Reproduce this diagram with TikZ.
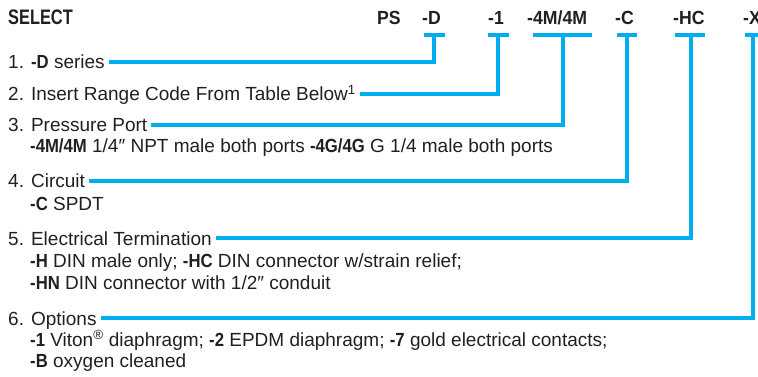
\documentclass[tikz,border=0pt]{standalone}
\usepackage{fontspec}
\setmainfont{Liberation Sans}
\newfontfamily\bb{Liberation Sans}[FakeStretch=0.88]
\newfontfamily\hsel{Liberation Sans}[FakeStretch=0.78]
\newfontfamily\hcode{Liberation Sans}[FakeStretch=0.93]
\definecolor{cy}{RGB}{0,174,239}
\definecolor{ink}{RGB}{35,31,32}
\newcommand\B[1]{{\bb\bfseries #1}}
\begin{document}
\begin{tikzpicture}[x=1pt,y=-1pt,
  txt/.style={anchor=base west,inner sep=0pt,text=ink,font=\fontsize{19}{22}\selectfont},
  code/.style={anchor=base west,inner sep=0pt,text=ink,font=\hcode\bfseries\fontsize{19}{22}\selectfont},
  bar/.style={draw=cy,line width=3.6pt},
  conn/.style={draw=cy,line width=3.6pt}]
\useasboundingbox (0,0) rectangle (758,377);
\clip (0,0) rectangle (758,377);
% header
\node[anchor=base west,inner sep=0pt,text=ink,font=\hsel\bfseries\fontsize{21}{22}\selectfont] (sel) at (8,25) {SELECT};
\node[code] (cPS) at (377,25) {PS};
\node[code] (cD) at (422,25) {-D};
\node[code] (c1) at (488,25) {-1};
\node[code] (c4) at (527,25) {-4M/4M};
\node[code] (cC) at (615,25) {-C};
\node[code] (cHC) at (673,25) {-HC};
\node[code] (cX) at (743,25) {-X};
% bar centres
\coordinate (bD) at (434,35);
\coordinate (b1) at (498,35);
\coordinate (b4) at (563,35);
\coordinate (bC) at (627,35);
\coordinate (bHC) at (691,35);
\coordinate (bX) at (753,35);
\draw[bar] ([xshift=-10.5pt]bD) -- ([xshift=10.5pt]bD);
\draw[bar] ([xshift=-10.5pt]b1) -- ([xshift=10.5pt]b1);
\draw[bar] ([xshift=-30pt]b4) -- ([xshift=29pt]b4);
\draw[bar] ([xshift=-10pt]bC) -- ([xshift=10pt]bC);
\draw[bar] ([xshift=-16pt]bHC) -- ([xshift=14pt]bHC);
\draw[bar] ([xshift=-8pt]bX) -- ([xshift=12pt]bX);
% items
\node[txt] (i1) at (8,69) {1. \B{-D} series};
\node[txt] (i2) at (8,101) {2. Insert Range Code From Table Below\textsuperscript{1}};
\node[txt] (i3) at (8,132) {3. Pressure Port};
\node[txt] (s3) at (30,153) {\B{-4M/4M} 1/4″ NPT male both ports \B{-4G/4G} G 1/4 male both ports};
\node[txt] (i4) at (8,188) {4. Circuit};
\node[txt] (s4) at (30,210) {\B{-C} SPDT};
\node[txt] (i5) at (8,245) {5. Electrical Termination};
\node[txt] (s5a) at (30,267) {\B{-H} DIN male only; \B{-HC} DIN connector w/strain relief;};
\node[txt] (s5b) at (30,289) {\B{-HN} DIN connector with 1/2″ conduit};
\node[txt] (i6) at (8,325) {6. Options};
\node[txt] (s6a) at (30,346) {\B{-1} Viton\textsuperscript{®} diaphragm; \B{-2} EPDM diaphragm; \B{-7} gold electrical contacts;};
\node[txt] (s6b) at (30,367) {\B{-B} oxygen cleaned};
% connectors
\draw[conn] ([shift={(4pt,7pt)}]i1.base east) -| (bD);
\draw[conn] ([shift={(4pt,7pt)}]i2.base east) -| (b1);
\draw[conn] ([shift={(4pt,7pt)}]i3.base east) -| (b4);
\draw[conn] ([shift={(4pt,7pt)}]i4.base east) -| (bC);
\draw[conn] ([shift={(4pt,7pt)}]i5.base east) -| (bHC);
\draw[conn] ([shift={(4pt,7pt)}]i6.base east) -| (bX);
\end{tikzpicture}
\end{document}
